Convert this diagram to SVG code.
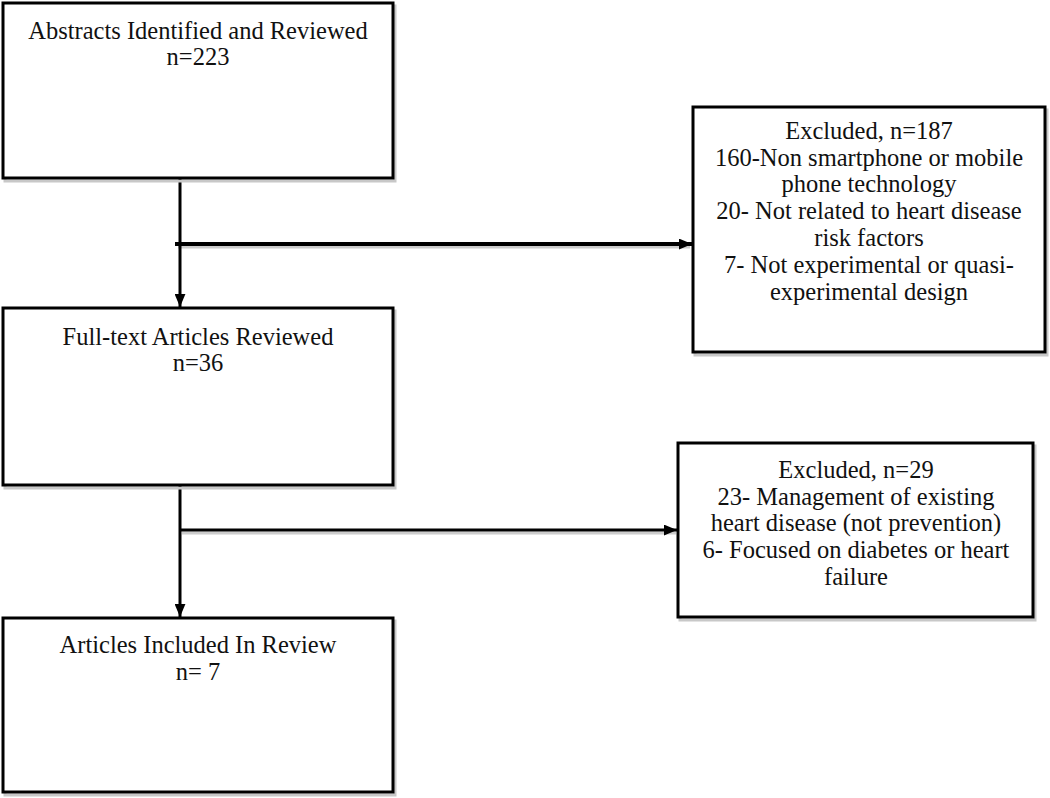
<svg xmlns="http://www.w3.org/2000/svg" width="1050" height="798" viewBox="0 0 1050 798">
  <style>
    .box { fill: #ffffff; stroke: #000000; stroke-width: 3; }
    .shadow { fill: none; stroke: #c8c8c8; stroke-width: 3; }
    .line { fill: none; stroke: #000000; stroke-width: 3; }
    .lshadow { fill: none; stroke: #cccccc; stroke-width: 3; }
    .t { font-family: "Liberation Serif", "DejaVu Serif", serif; font-size: 24.5px; fill: #111111; text-anchor: middle; }
  </style>
  <defs>
    <marker id="arr" viewBox="0 0 12 10" refX="12" refY="5" markerWidth="13" markerHeight="11" markerUnits="userSpaceOnUse" orient="auto">
      <path d="M0,0 L12,5 L0,10 Z" fill="#000000"/>
    </marker>
  </defs>
  <rect width="1050" height="798" fill="#ffffff"/>

  <g id="connectors">
    <path class="lshadow" d="M178,247 L690,247"/>
    <path class="lshadow" d="M182,533 L676,533"/>
    <path class="line" d="M180,178 L180,307" marker-end="url(#arr)"/>
    <path class="line" d="M175,244 L692,244" marker-end="url(#arr)" style="stroke-width:4"/>
    <path class="line" d="M180,485 L180,617" marker-end="url(#arr)"/>
    <path class="line" d="M180,530 L677,530" marker-end="url(#arr)"/>
  </g>

  <g id="abstracts">
    <rect class="shadow" x="5" y="6" width="390" height="175"/>
    <rect class="box" x="3" y="3" width="390" height="175"/>
    <text class="t" x="198" y="39">Abstracts Identified and Reviewed</text>
    <text class="t" x="198" y="65">n=223</text>
  </g>

  <g id="excluded1">
    <rect class="shadow" x="695" y="110" width="352" height="245"/>
    <rect class="box" x="693" y="107" width="352" height="245"/>
    <text class="t" x="869" y="139">Excluded, n=187</text>
    <text class="t" x="869" y="166">160-Non smartphone or mobile</text>
    <text class="t" x="869" y="192">phone technology</text>
    <text class="t" x="869" y="219">20- Not related to heart disease</text>
    <text class="t" x="869" y="246">risk factors</text>
    <text class="t" x="869" y="273">7- Not experimental or quasi-</text>
    <text class="t" x="869" y="300">experimental design</text>
  </g>

  <g id="fulltext">
    <rect class="shadow" x="5" y="311" width="390" height="177"/>
    <rect class="box" x="3" y="308" width="390" height="177"/>
    <text class="t" x="198" y="345">Full-text Articles Reviewed</text>
    <text class="t" x="198" y="371">n=36</text>
  </g>

  <g id="excluded2">
    <rect class="shadow" x="680" y="446" width="355" height="174"/>
    <rect class="box" x="678" y="443" width="355" height="174"/>
    <text class="t" x="856" y="478">Excluded, n=29</text>
    <text class="t" x="856" y="505">23- Management of existing</text>
    <text class="t" x="856" y="531">heart disease (not prevention)</text>
    <text class="t" x="856" y="558">6- Focused on diabetes or heart</text>
    <text class="t" x="856" y="585">failure</text>
  </g>

  <g id="included">
    <rect class="shadow" x="5" y="621" width="390" height="174"/>
    <rect class="box" x="3" y="618" width="390" height="174"/>
    <text class="t" x="198" y="653">Articles Included In Review</text>
    <text class="t" x="198" y="680">n= 7</text>
  </g>
</svg>
